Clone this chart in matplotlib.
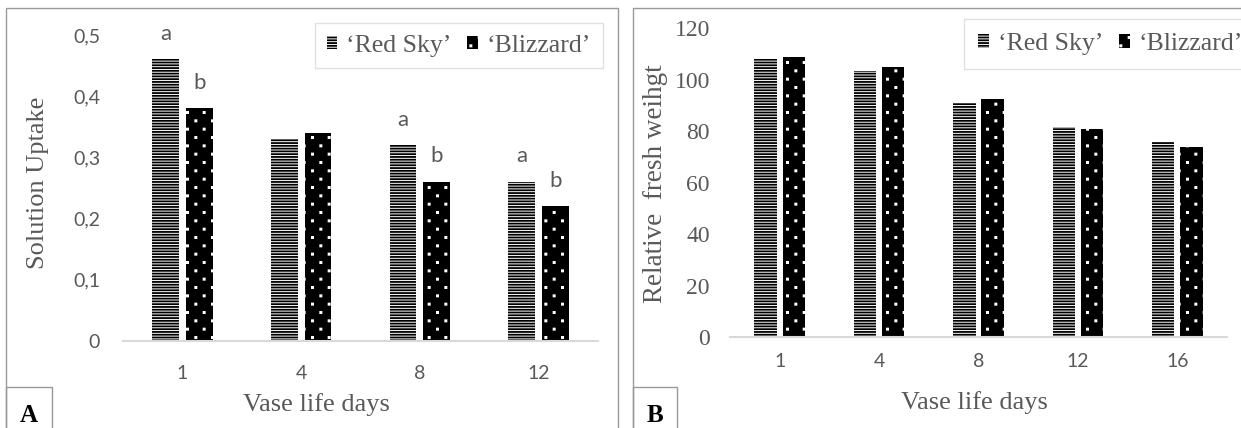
import matplotlib
matplotlib.use('Agg')
import matplotlib.pyplot as plt
import numpy as np
from matplotlib.patches import Rectangle
from matplotlib import hatch as mhatch
from matplotlib.path import Path

# ---------------- data ----------------
days_a = ['1', '4', '8', '12']
red_sky_a = [0.46, 0.33, 0.32, 0.26]
blizzard_a = [0.38, 0.34, 0.26, 0.22]
letters_red_a = ['a', '', 'a', 'a']
letters_bliz_a = ['b', '', 'b', 'b']
yticks_a = [0, 0.1, 0.2, 0.3, 0.4, 0.5]
yticklabels_a = ['0', '0,1', '0,2', '0,3', '0,4', '0,5']

days_b = ['1', '4', '8', '12', '16']
red_sky_b = [108, 103.5, 91, 81.5, 76]
blizzard_b = [109, 105, 92.5, 81, 74]
yticks_b = [0, 20, 40, 60, 80, 100, 120]
yticklabels_b = ['0', '20', '40', '60', '80', '100', '120']

series_names = ["\u2018Red Sky\u2019", "\u2018Blizzard\u2019"]


# ------------- Excel-like staggered small-dot pattern for '.' -------------
class StaggeredDots(mhatch.HatchPatternBase):
    def __init__(self, hatch, density):
        n = hatch.count('.')
        self.rows = 2 * n * density
        self.cols = n * density
        self.num_vertices = self.rows * self.cols * 5

    def set_vertices_and_codes(self, vertices, codes):
        s = 0.006
        sq = np.array([[-s, -s], [s, -s], [s, s], [-s, s], [-s, -s]])
        k = 0
        for i in range(self.rows):
            y = (i + 0.5) / self.rows
            for j in range(self.cols):
                x = (j + 0.25 + 0.5 * (i % 2)) / self.cols
                vertices[k:k + 5] = sq + [x, y]
                codes[k] = Path.MOVETO
                codes[k + 1:k + 4] = Path.LINETO
                codes[k + 4] = Path.CLOSEPOLY
                k += 5


mhatch._hatch_types = [StaggeredDots if t is mhatch.SmallFilledCircles else t
                       for t in mhatch._hatch_types]

# ---------------- style ----------------
W, H = 1241, 428
GRAY = '#595959'
SERIF = 'Liberation Serif'
SANS = 'Lato'
plt.rcParams['hatch.linewidth'] = 1.3

fig = plt.figure(figsize=(W / 100, H / 100), dpi=100)


def axes_px(left, right, top, bottom):
    return fig.add_axes([left / W, (H - bottom) / H, (right - left) / W, (bottom - top) / H])


BAR_W = 0.225
OFF = 0.142


def style_axes(ax):
    for s in ['top', 'right', 'left']:
        ax.spines[s].set_visible(False)
    ax.spines['bottom'].set_color('#d9d9d9')
    ax.spines['bottom'].set_linewidth(1.5)
    ax.tick_params(length=0)


def draw_bars(ax, red, bl):
    x = np.arange(len(red))
    b1 = ax.bar(x - OFF, red, BAR_W, color='white', edgecolor='black',
                hatch='------', linewidth=0, label=series_names[0])
    b2 = ax.bar(x + OFF, bl, BAR_W, color='black', edgecolor='white',
                hatch='.', linewidth=0, label=series_names[1])
    return x, b1, b2


def legend(ax, handles, x_px, y_px, pad):
    leg = ax.legend(handles=handles, ncol=2, loc='upper left',
                    bbox_to_anchor=(x_px / W, 1 - y_px / H), bbox_transform=fig.transFigure,
                    prop={'family': SERIF, 'size': 18.5}, labelcolor=GRAY,
                    frameon=True, fancybox=False, edgecolor='#d9d9d9',
                    handlelength=0.42, handleheight=0.42, handletextpad=0.35,
                    columnspacing=0.6, borderpad=pad, borderaxespad=0)
    leg.get_frame().set_linewidth(1)
    return leg


# ---------------- panel A ----------------
axA = axes_px(123, 598, 35, 341)
xA, a1, a2 = draw_bars(axA, red_sky_a, blizzard_a)
style_axes(axA)
axA.set_xlim(-0.5, len(days_a) - 0.5)
axA.set_ylim(0, 0.5)
axA.tick_params(axis='x', pad=17)
axA.tick_params(axis='y', pad=16.5)
axA.set_xticks(xA)
axA.set_xticklabels(days_a)
axA.set_yticks(yticks_a)
axA.set_yticklabels(yticklabels_a)
for t in axA.get_xticklabels() + axA.get_yticklabels():
    t.set_fontfamily(SANS)
    t.set_fontsize(14)
    t.set_color(GRAY)
axA.set_xlabel('Vase life days', fontfamily=SERIF, fontsize=19, color=GRAY, va='center')
axA.xaxis.set_label_coords((316 - 123) / 475, (341 - 405) / 306)
axA.set_ylabel('Solution Uptake', fontfamily=SERIF, fontsize=19, color=GRAY, va='center')
axA.yaxis.set_label_coords((38 - 123) / 475, (341 - 183) / 306)

for i in range(len(days_a)):
    if letters_red_a[i]:
        axA.annotate(letters_red_a[i], (xA[i] - OFF, red_sky_a[i]), xytext=(0, 14),
                     textcoords='offset points', ha='center', va='baseline',
                     fontfamily=SANS, fontsize=16, color=GRAY)
    if letters_bliz_a[i]:
        axA.annotate(letters_bliz_a[i], (xA[i] + OFF, blizzard_a[i]), xytext=(0, 14),
                     textcoords='offset points', ha='center', va='baseline',
                     fontfamily=SANS, fontsize=16, color=GRAY)

legend(axA, [a1, a2], 315, 23, 0.45)

# ---------------- panel B ----------------
axB = axes_px(730, 1227, 28.5, 337)
xB, b1, b2 = draw_bars(axB, red_sky_b, blizzard_b)
style_axes(axB)
axB.set_xlim(-0.5, len(days_b) - 0.5)
axB.set_ylim(0, 120)
axB.tick_params(axis='x', pad=11.5)
axB.tick_params(axis='y', pad=14.5)
axB.set_xticks(xB)
axB.set_xticklabels(days_b)
axB.set_yticks(yticks_b)
axB.set_yticklabels(yticklabels_b)
for t in axB.get_xticklabels():
    t.set_fontfamily(SANS)
    t.set_fontsize(14)
    t.set_color(GRAY)
for t in axB.get_yticklabels():
    t.set_fontfamily(SERIF)
    t.set_fontsize(17)
    t.set_color(GRAY)
axB.set_xlabel('Vase life days', fontfamily=SERIF, fontsize=19, color=GRAY, va='center')
axB.xaxis.set_label_coords((974 - 730) / 497, (337 - 403) / 308.5)
axB.set_ylabel('Relative  fresh weihgt', fontfamily=SERIF, fontsize=19.5, color=GRAY, va='center')
axB.yaxis.set_label_coords((656 - 730) / 497, (337 - 184) / 308.5)

legend(axB, [b1, b2], 964, 19, 0.55)

# ---------------- panel frames and letters ----------------
def frame_px(x0, x1, y0, y1, color='#999999'):
    fig.add_artist(Rectangle((x0 / W, 1 - y1 / H), (x1 - x0) / W, (y1 - y0) / H,
                             transform=fig.transFigure, fill=False,
                             edgecolor=color, linewidth=1))

frame_px(6, 618, 8, 450)
frame_px(633, 1260, 8, 450)
frame_px(6, 52, 387, 450)
frame_px(633, 677, 387, 450)
fig.text(29 / W, 1 - 416 / H, 'A', fontfamily=SERIF, fontweight='bold', fontsize=18,
         ha='center', va='center', color='black')
fig.text(655 / W, 1 - 416 / H, 'B', fontfamily=SERIF, fontweight='bold', fontsize=18,
         ha='center', va='center', color='black')

fig.savefig('out.png', dpi=100)
